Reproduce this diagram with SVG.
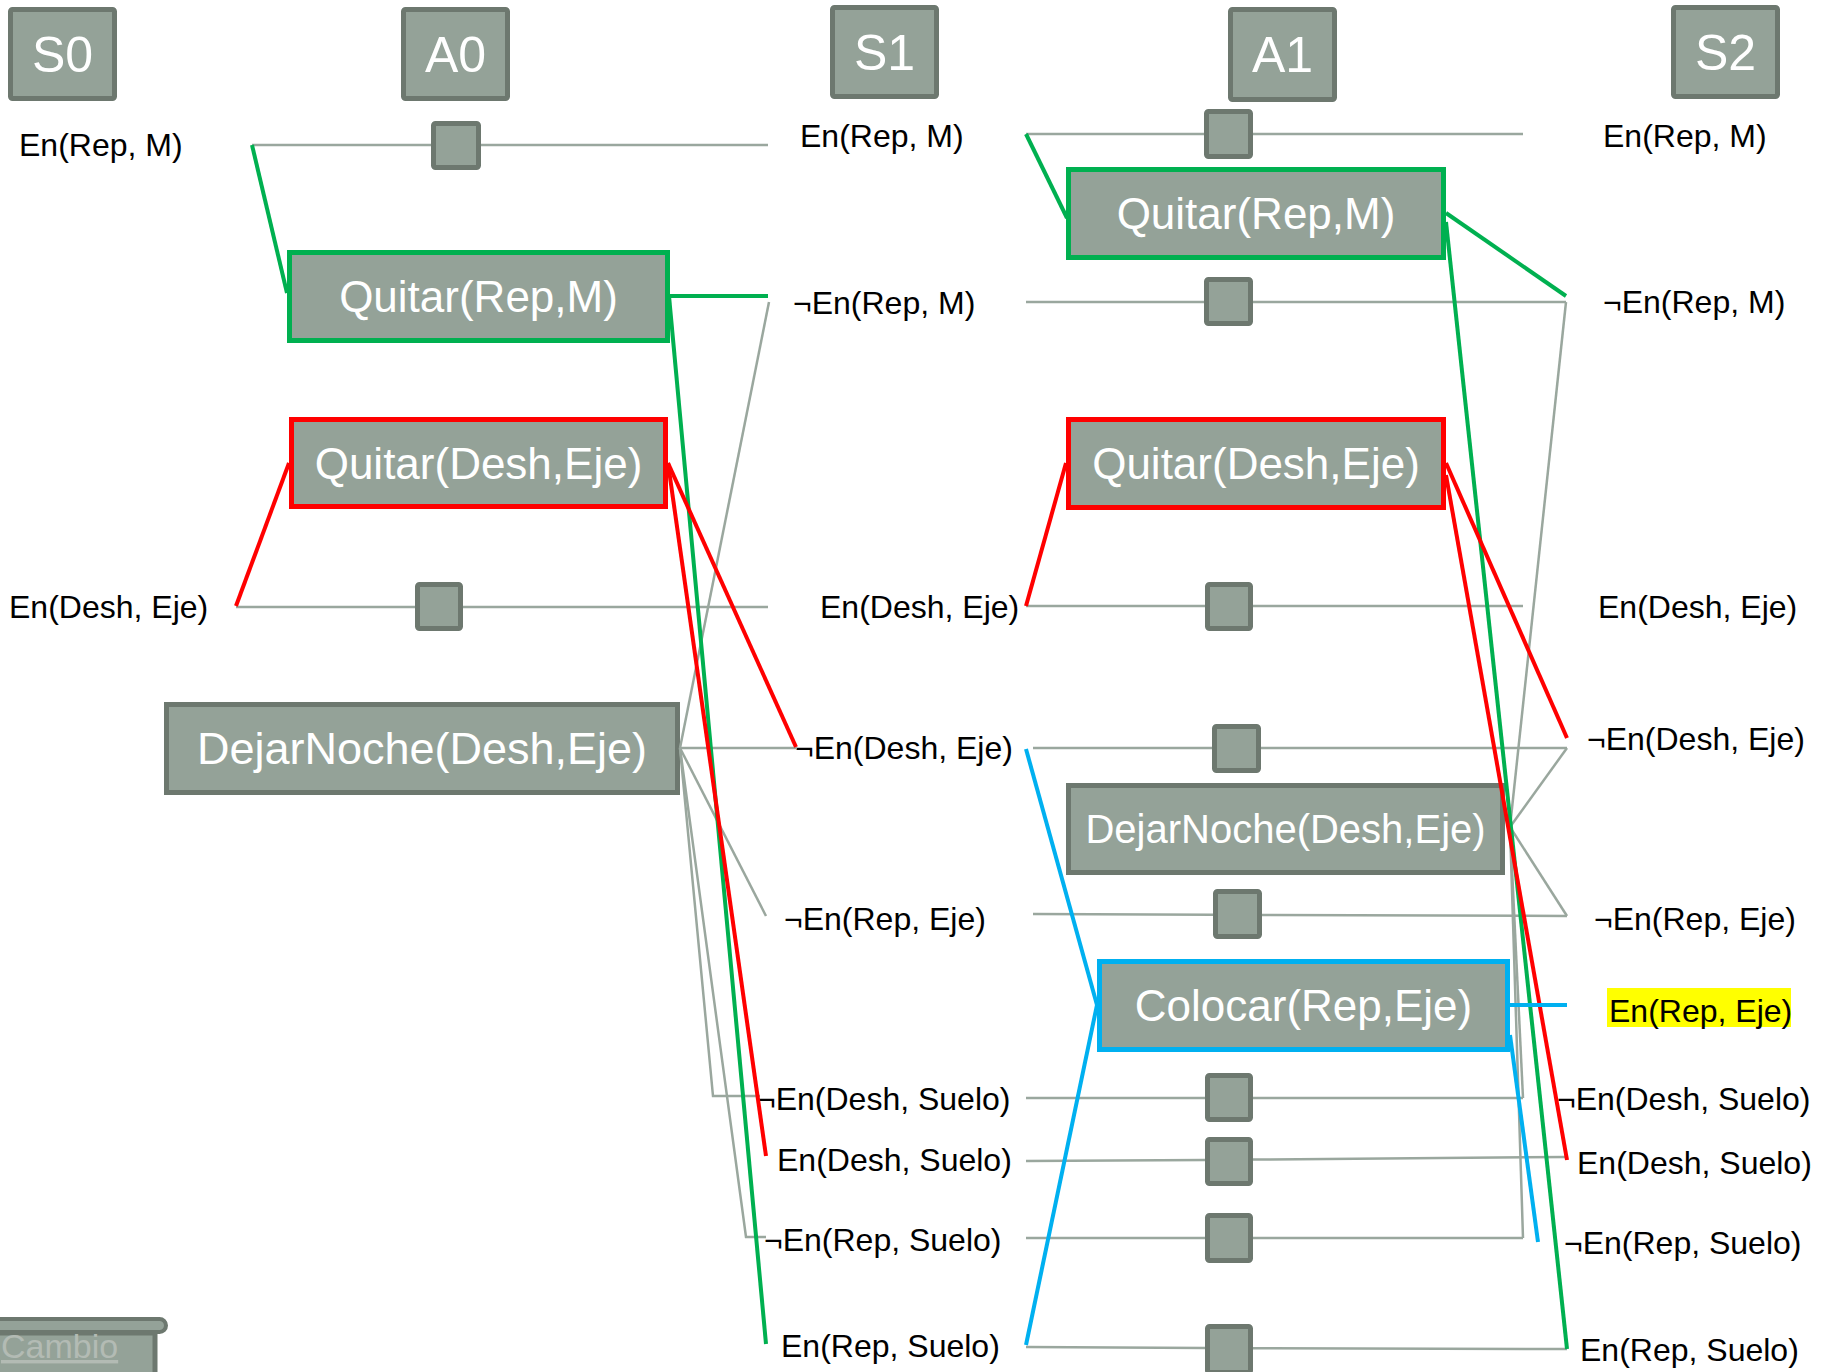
<svg xmlns="http://www.w3.org/2000/svg" width="1822" height="1372" viewBox="0 0 1822 1372">
<style>
.box{fill:#94a298;stroke:#6d786f;stroke-width:5}
.hdr{fill:#94a298;stroke:#6d786f;stroke-width:5}
.sq{fill:#94a298;stroke:#6d786f;stroke-width:5}
.g{fill:none;stroke:#9aa79e;stroke-width:2.5}
.gr{fill:none;stroke:#00b050;stroke-width:4}
.rd{fill:none;stroke:#ff0000;stroke-width:4}
.bl{fill:none;stroke:#00b0f0;stroke-width:4}
.ht{font-family:"Liberation Sans",Arial,sans-serif;font-size:50px;fill:#ffffff;text-anchor:middle}
.bt{font-family:"Liberation Sans",Arial,sans-serif;font-size:44px;fill:#ffffff;text-anchor:middle}
.lb{font-family:"Liberation Sans",Arial,sans-serif;font-size:32px;fill:#000000}
</style>
<rect width="1822" height="1372" fill="#ffffff"/>

<!-- headers -->
<g id="S0"><rect class="hdr" x="10.5" y="9.5" width="104" height="89" rx="2"/><text class="ht" x="62.5" y="72">S0</text></g>
<g id="A0"><rect class="hdr" x="403.5" y="9.5" width="104" height="89" rx="2"/><text class="ht" x="455.5" y="72">A0</text></g>
<g id="S1"><rect class="hdr" x="832.5" y="7.5" width="104" height="89" rx="2"/><text class="ht" x="884.5" y="70">S1</text></g>
<g id="A1"><rect class="hdr" x="1230.5" y="9.5" width="104" height="90" rx="2"/><text class="ht" x="1282.5" y="72">A1</text></g>
<g id="S2"><rect class="hdr" x="1673.5" y="7.5" width="104" height="89" rx="2"/><text class="ht" x="1725.5" y="70">S2</text></g>

<!-- action boxes -->
<g id="A0-QuitarRepM"><rect class="box" x="289.5" y="252.5" width="378" height="88" style="stroke:#00b050"/><text class="bt" x="478.5" y="312">Quitar(Rep,M)</text></g>
<g id="A0-QuitarDeshEje"><rect class="box" x="291.5" y="419.5" width="374" height="87" style="stroke:#ff0000"/><text class="bt" x="478.5" y="479">Quitar(Desh,Eje)</text></g>
<g id="A0-DejarNoche"><rect class="box" x="166.5" y="704.5" width="511" height="88"/><text class="bt" x="422" y="764" style="font-size:45px">DejarNoche(Desh,Eje)</text></g>
<g id="A1-QuitarRepM"><rect class="box" x="1068.5" y="169.5" width="375" height="88" style="stroke:#00b050"/><text class="bt" x="1256" y="229">Quitar(Rep,M)</text></g>
<g id="A1-QuitarDeshEje"><rect class="box" x="1068.5" y="419.5" width="375" height="88" style="stroke:#ff0000"/><text class="bt" x="1256" y="479">Quitar(Desh,Eje)</text></g>
<g id="A1-DejarNoche"><rect class="box" x="1068.5" y="785.5" width="434" height="87"/><text class="bt" x="1285.5" y="843" style="font-size:40px">DejarNoche(Desh,Eje)</text></g>
<g id="A1-Colocar"><rect class="box" x="1099.5" y="961.5" width="408" height="88" style="stroke:#00b0f0"/><text class="bt" x="1303.5" y="1021">Colocar(Rep,Eje)</text></g>

<!-- persistence squares -->
<g id="A0-noop1"><rect class="sq" x="433.5" y="123.5" width="45" height="44" rx="2"/></g>
<g id="A0-noop2"><rect class="sq" x="417.5" y="584.5" width="43" height="44" rx="2"/></g>
<g id="A1-noop1"><rect class="sq" x="1206.5" y="111.5" width="44" height="45" rx="2"/></g>
<g id="A1-noop2"><rect class="sq" x="1206.5" y="279.5" width="44" height="44" rx="2"/></g>
<g id="A1-noop3"><rect class="sq" x="1207.5" y="584.5" width="43" height="44" rx="2"/></g>
<g id="A1-noop4"><rect class="sq" x="1214.5" y="726.5" width="44" height="44" rx="2"/></g>
<g id="A1-noop5"><rect class="sq" x="1215.5" y="891.5" width="44" height="45" rx="2"/></g>
<g id="A1-noop6"><rect class="sq" x="1207.5" y="1075.5" width="43" height="44" rx="2"/></g>
<g id="A1-noop7"><rect class="sq" x="1207.5" y="1139.5" width="43" height="44" rx="2"/></g>
<g id="A1-noop8"><rect class="sq" x="1207.5" y="1215.5" width="43" height="45" rx="2"/></g>
<g id="A1-noop9"><rect class="sq" x="1207.5" y="1326.5" width="43" height="46" rx="2"/></g>

<!-- state literals -->
<g id="S0-lits">
<text class="lb" x="19" y="156">En(Rep, M)</text>
<text class="lb" x="9" y="618">En(Desh, Eje)</text>
</g>
<g id="S1-lits">
<text class="lb" x="800" y="147">En(Rep, M)</text>
<text class="lb" x="793" y="314">¬En(Rep, M)</text>
<text class="lb" x="820" y="618">En(Desh, Eje)</text>
<text class="lb" x="795" y="759">¬En(Desh, Eje)</text>
<text class="lb" x="784" y="930">¬En(Rep, Eje)</text>
<text class="lb" x="757" y="1110">¬En(Desh, Suelo)</text>
<text class="lb" x="777" y="1171">En(Desh, Suelo)</text>
<text class="lb" x="764" y="1251">¬En(Rep, Suelo)</text>
<text class="lb" x="781" y="1357">En(Rep, Suelo)</text>
</g>
<g id="S2-lits">
<text class="lb" x="1603" y="147">En(Rep, M)</text>
<text class="lb" x="1603" y="313">¬En(Rep, M)</text>
<text class="lb" x="1598" y="618">En(Desh, Eje)</text>
<text class="lb" x="1587" y="750">¬En(Desh, Eje)</text>
<text class="lb" x="1594" y="930">¬En(Rep, Eje)</text>
<rect x="1607" y="988" width="184" height="39" fill="#ffff00"/>
<text class="lb" x="1609" y="1022">En(Rep, Eje)</text>
<text class="lb" x="1557" y="1110">¬En(Desh, Suelo)</text>
<text class="lb" x="1577" y="1174">En(Desh, Suelo)</text>
<text class="lb" x="1564" y="1254">¬En(Rep, Suelo)</text>
<text class="lb" x="1580" y="1361">En(Rep, Suelo)</text>
</g>

<!-- connectors -->
<g id="connectors">
<path class="g" d="M252 145H431M481 145H768"/>
<path class="g" d="M236 607H415M463 607H768"/>
<path class="g" d="M1026 134H1204M1253 134H1523"/>
<path class="g" d="M1026 302H1204M1253 302H1566"/>
<path class="g" d="M1026 606H1205M1253 606H1523"/>
<path class="g" d="M1033 748H1212M1261 748H1567"/>
<path class="g" d="M1033 914L1213 914.7M1262 914.9L1567 916"/>
<path class="g" d="M1026 1098H1205M1253 1098H1523"/>
<path class="g" d="M1026 1161L1205 1160M1253 1159.6L1567 1157"/>
<path class="g" d="M1026 1238H1205M1253 1238H1523"/>
<path class="g" d="M1026 1347L1205 1348M1253 1348.2L1567 1349"/>
<path class="g" d="M769 302L680 748"/>
<path class="g" d="M680 748H797"/>
<path class="g" d="M680 748L766 916"/>
<path class="g" d="M680 748L713 1096H760"/>
<path class="g" d="M680 748L746 1237H766"/>
<path class="g" d="M1566 302L1510 827"/>
<path class="g" d="M1567 748L1510 827"/>
<path class="g" d="M1510 827L1567 916"/>
<path class="g" d="M1510 827L1523 1098"/>
<path class="g" d="M1510 827L1523 1238"/>
<path class="gr" d="M252 145L287 293"/>
<path class="gr" d="M669 296H768"/>
<path class="gr" d="M669 296L766 1344"/>
<path class="gr" d="M1026 134L1067 218"/>
<path class="gr" d="M1446 213L1566 296"/>
<path class="gr" d="M1446 222L1567 1349"/>
<path class="rd" d="M236 606L289 463"/>
<path class="rd" d="M668 463L796 747"/>
<path class="rd" d="M668 463L766 1156"/>
<path class="rd" d="M1026 606L1066 463"/>
<path class="rd" d="M1446 463L1567 738"/>
<path class="rd" d="M1446 475L1567 1160"/>
<path class="bl" d="M1026 749L1097 1005"/>
<path class="bl" d="M1097 1005L1026 1345"/>
<path class="bl" d="M1510 1005H1567"/>
<path class="bl" d="M1510 1035L1538 1242"/>
</g>

<!-- Cambio scroll -->
<g id="Cambio">
<rect x="-10" y="1333" width="165" height="50" fill="#94a298" stroke="#6d786f" stroke-width="5"/>
<rect x="-10" y="1319" width="176" height="13" rx="6.5" fill="#94a298" stroke="#6d786f" stroke-width="4"/>
<text x="1" y="1358" style="font-family:'Liberation Sans',Arial,sans-serif;font-size:34px;fill:#b3bbb4;text-decoration:underline">Cambio</text>
</g>
</svg>
